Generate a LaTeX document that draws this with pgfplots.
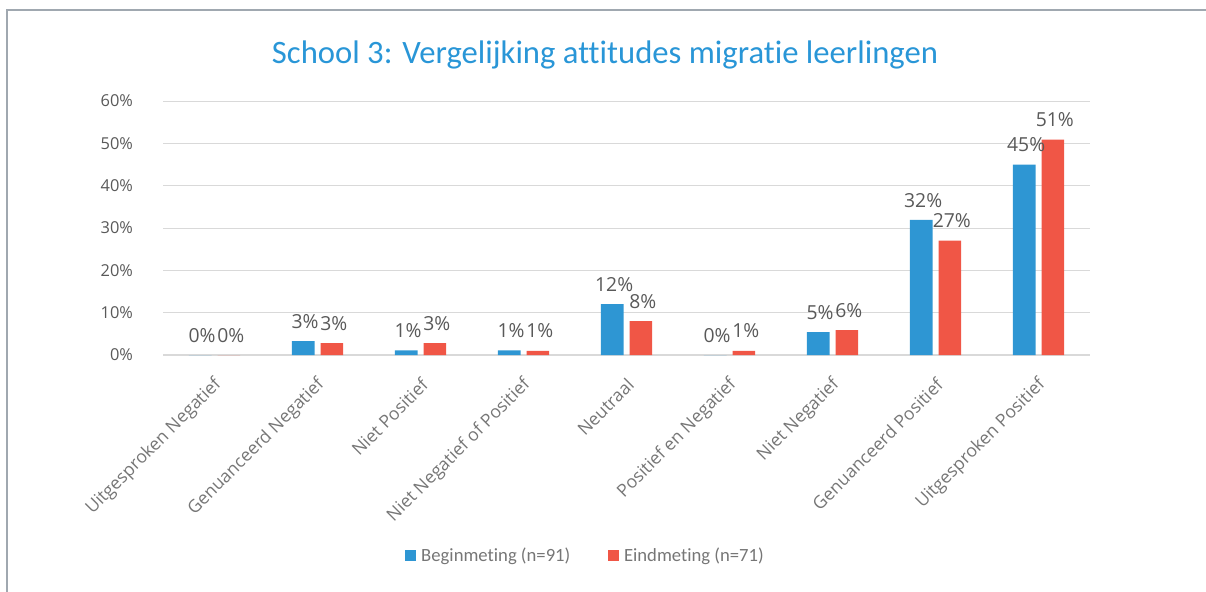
\documentclass[border=0pt]{standalone}
\usepackage{pgfplots}
\pgfplotsset{compat=1.18}
\usepackage{fontspec}
\setmainfont{Carlito}[Ligatures=NoCommon]
\newfontfamily\catfont{Open Sans}
\definecolor{cblue}{RGB}{46,150,211}
\definecolor{cred}{RGB}{240,86,70}
\definecolor{ctext}{RGB}{89,89,89}
\definecolor{clabel}{RGB}{118,118,118}
\definecolor{cgrid}{RGB}{217,217,217}
\definecolor{cborder}{RGB}{160,168,176}
\definecolor{ctitle}{RGB}{41,150,215}
\begin{document}
\begin{tikzpicture}
\useasboundingbox (0,0) rectangle (904.5pt,-444pt);
\draw[cborder, line width=1pt] (5.25pt,-444pt) -- (5.25pt,-7.5pt) -- (904.5pt,-7.5pt);
\node[ctitle, font=\fontsize{24.5}{30}\selectfont] at (453.75pt,-41.25pt) {School 3: Vergelijking attitudes migratie leerlingen};
\begin{axis}[
  at={(122.25pt,-266.25pt)}, anchor=south west,
  scale only axis, width=695.25pt, height=190.5pt,
  xmin=-0.5, xmax=8.5, ymin=0, ymax=60,
  ybar=4.5pt, bar width=17pt,
  axis line style={draw=none},
  major tick length=0pt,
  ymajorgrids, grid style={cgrid, line width=0.75pt},
  extra y ticks={0}, extra y tick labels={},
  extra y tick style={grid style={cgrid, line width=1.6pt}},
  ytick={0,10,...,60},
  yticklabel={\pgfmathprintnumber{\tick}\%},
  /pgf/number format/assume math mode=true,
  yticklabel style={ctext, font=\catfont\fontsize{12.3}{15}\selectfont, xshift=-19pt},
  xtick={0,...,8},
  xticklabels={Uitgesproken Negatief, Genuanceerd Negatief, Niet Positief, Niet Negatief of Positief, Neutraal, Positief en Negatief, Niet Negatief, Genuanceerd Positief, Uitgesproken Positief},
  xticklabel style={rotate=45, anchor=east, clabel, font=\catfont\fontsize{13.2}{15}\selectfont, inner sep=0pt, xshift=-12pt, yshift=-16.5pt},
  nodes near coords, point meta=explicit symbolic,
  nodes near coords style={ctext, font=\catfont\fontsize{14.5}{17}\selectfont, anchor=south, yshift=6pt, xshift=1.5pt},
  legend columns=2,
  legend style={at={(0.456,-0.791)}, anchor=center, draw=none, fill=none, text=clabel, font=\fontsize{14}{16}\selectfont, /tikz/every even column/.append style={column sep=26pt}},
]
\addplot[fill=cblue, draw=none, legend image code/.code={\fill[cblue] (0pt,-4.1pt) rectangle (8.25pt,4.1pt);}] coordinates {
  (0,0) [0\%] (1,3.3) [3\%] (2,1.1) [1\%] (3,1.1) [1\%] (4,12.0) [12\%]
  (5,0) [0\%] (6,5.4) [5\%] (7,31.9) [32\%] (8,45.0) [45\%]};
\addlegendentry{\hspace{2pt}Beginmeting (n=91)}
\addplot[fill=cred, draw=none, legend image code/.code={\fill[cred] (0pt,-4.1pt) rectangle (8.25pt,4.1pt);}] coordinates {
  (0,0) [0\%] (1,2.8) [3\%] (2,2.8) [3\%] (3,1.0) [1\%] (4,8.0) [8\%]
  (5,1.0) [1\%] (6,5.9) [6\%] (7,27.0) [27\%] (8,50.9) [51\%]};
\addlegendentry{\hspace{2pt}Eindmeting (n=71)}
\end{axis}
\end{tikzpicture}
\end{document}
